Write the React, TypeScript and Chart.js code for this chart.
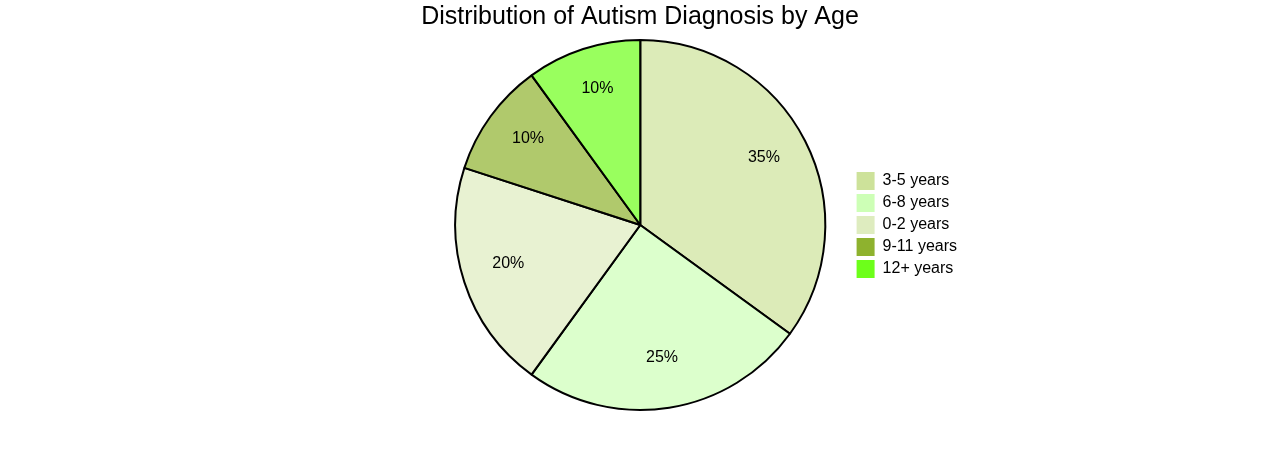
import React, { useEffect, useRef } from "react";
import { Chart, registerables } from "chart.js";

Chart.register(...registerables);

const TITLE = "Distribution of Autism Diagnosis by Age";
const categories = ["3-5 years", "6-8 years", "0-2 years", "9-11 years", "12+ years"];
const values = [35, 25, 20, 10, 10];
const baseColors = ["#cde29a", "#cdffb6", "#deecbf", "#8eb22e", "#6dff1a"];
const sliceColors = ["rgba(205,226,154,0.7)", "rgba(205,255,182,0.7)", "rgba(222,236,191,0.7)", "rgba(142,178,46,0.7)", "rgba(109,255,26,0.7)"];

const FONT = "'Liberation Sans', Arial, sans-serif";

const percentLabels = {
  id: "percentLabels",
  afterDatasetsDraw(chart: any) {
    const ctx = chart.ctx;
    const meta = chart.getDatasetMeta(0);
    const total = values.reduce((a, b) => a + b, 0);
    ctx.save();
    ctx.font = `16px ${FONT}`;
    ctx.fillStyle = "#000";
    ctx.textAlign = "center";
    ctx.textBaseline = "alphabetic";
    meta.data.forEach((arc: any, i: number) => {
      const { x, y, startAngle, endAngle, outerRadius } = arc.getProps(["x", "y", "startAngle", "endAngle", "outerRadius"], true);
      const mid = (startAngle + endAngle) / 2;
      const r = outerRadius * 0.75;
      const pct = Math.round((values[i] / total) * 100) + "%";
      ctx.fillText(pct, x + Math.cos(mid) * r, y + Math.sin(mid) * r);
    });
    ctx.restore();
  },
};

const centeredTitle = {
  id: "centeredTitle",
  afterDraw(chart: any) {
    const ctx = chart.ctx;
    ctx.save();
    ctx.font = `25px ${FONT}`;
    ctx.fillStyle = "#000";
    ctx.textAlign = "center";
    ctx.textBaseline = "middle";
    ctx.fillText(TITLE, chart.width / 2, 17);
    ctx.restore();
  },
};

export default function App() {
  const ref = useRef<HTMLCanvasElement | null>(null);
  useEffect(() => {
    if (!ref.current) return;
    const chart = new Chart(ref.current, {
      type: "pie",
      data: {
        labels: categories,
        datasets: [
          {
            data: values,
            backgroundColor: sliceColors,
            borderColor: "#000",
            borderWidth: 2,
          },
        ],
      },
      options: {
        responsive: false,
        animation: false,
        devicePixelRatio: 1,
        layout: { padding: { left: 428, right: 313, top: 39, bottom: 39 } },
        plugins: {
          tooltip: { enabled: false },
          title: { display: false },
          legend: {
            display: true,
            position: "right",
            align: "center",
            labels: {
              boxWidth: 18,
              boxHeight: 18,
              padding: 4,
              color: "#000",
              font: { family: FONT, size: 16 },
              generateLabels: () =>
                categories.map((c, i) => ({
                  text: c,
                  fillStyle: baseColors[i],
                  strokeStyle: baseColors[i],
                  lineWidth: 0,
                  hidden: false,
                  index: i,
                  fontColor: "#000",
                })),
            },
          },
        },
      } as any,
      plugins: [percentLabels, centeredTitle],
    });
    return () => chart.destroy();
  }, []);
  return (
    <div style={{ position: "absolute", left: 0, top: 0, width: 1280, height: 450, background: "#fff" }}>
      <canvas ref={ref} width={1280} height={450} style={{ display: "block" }} />
    </div>
  );
}
